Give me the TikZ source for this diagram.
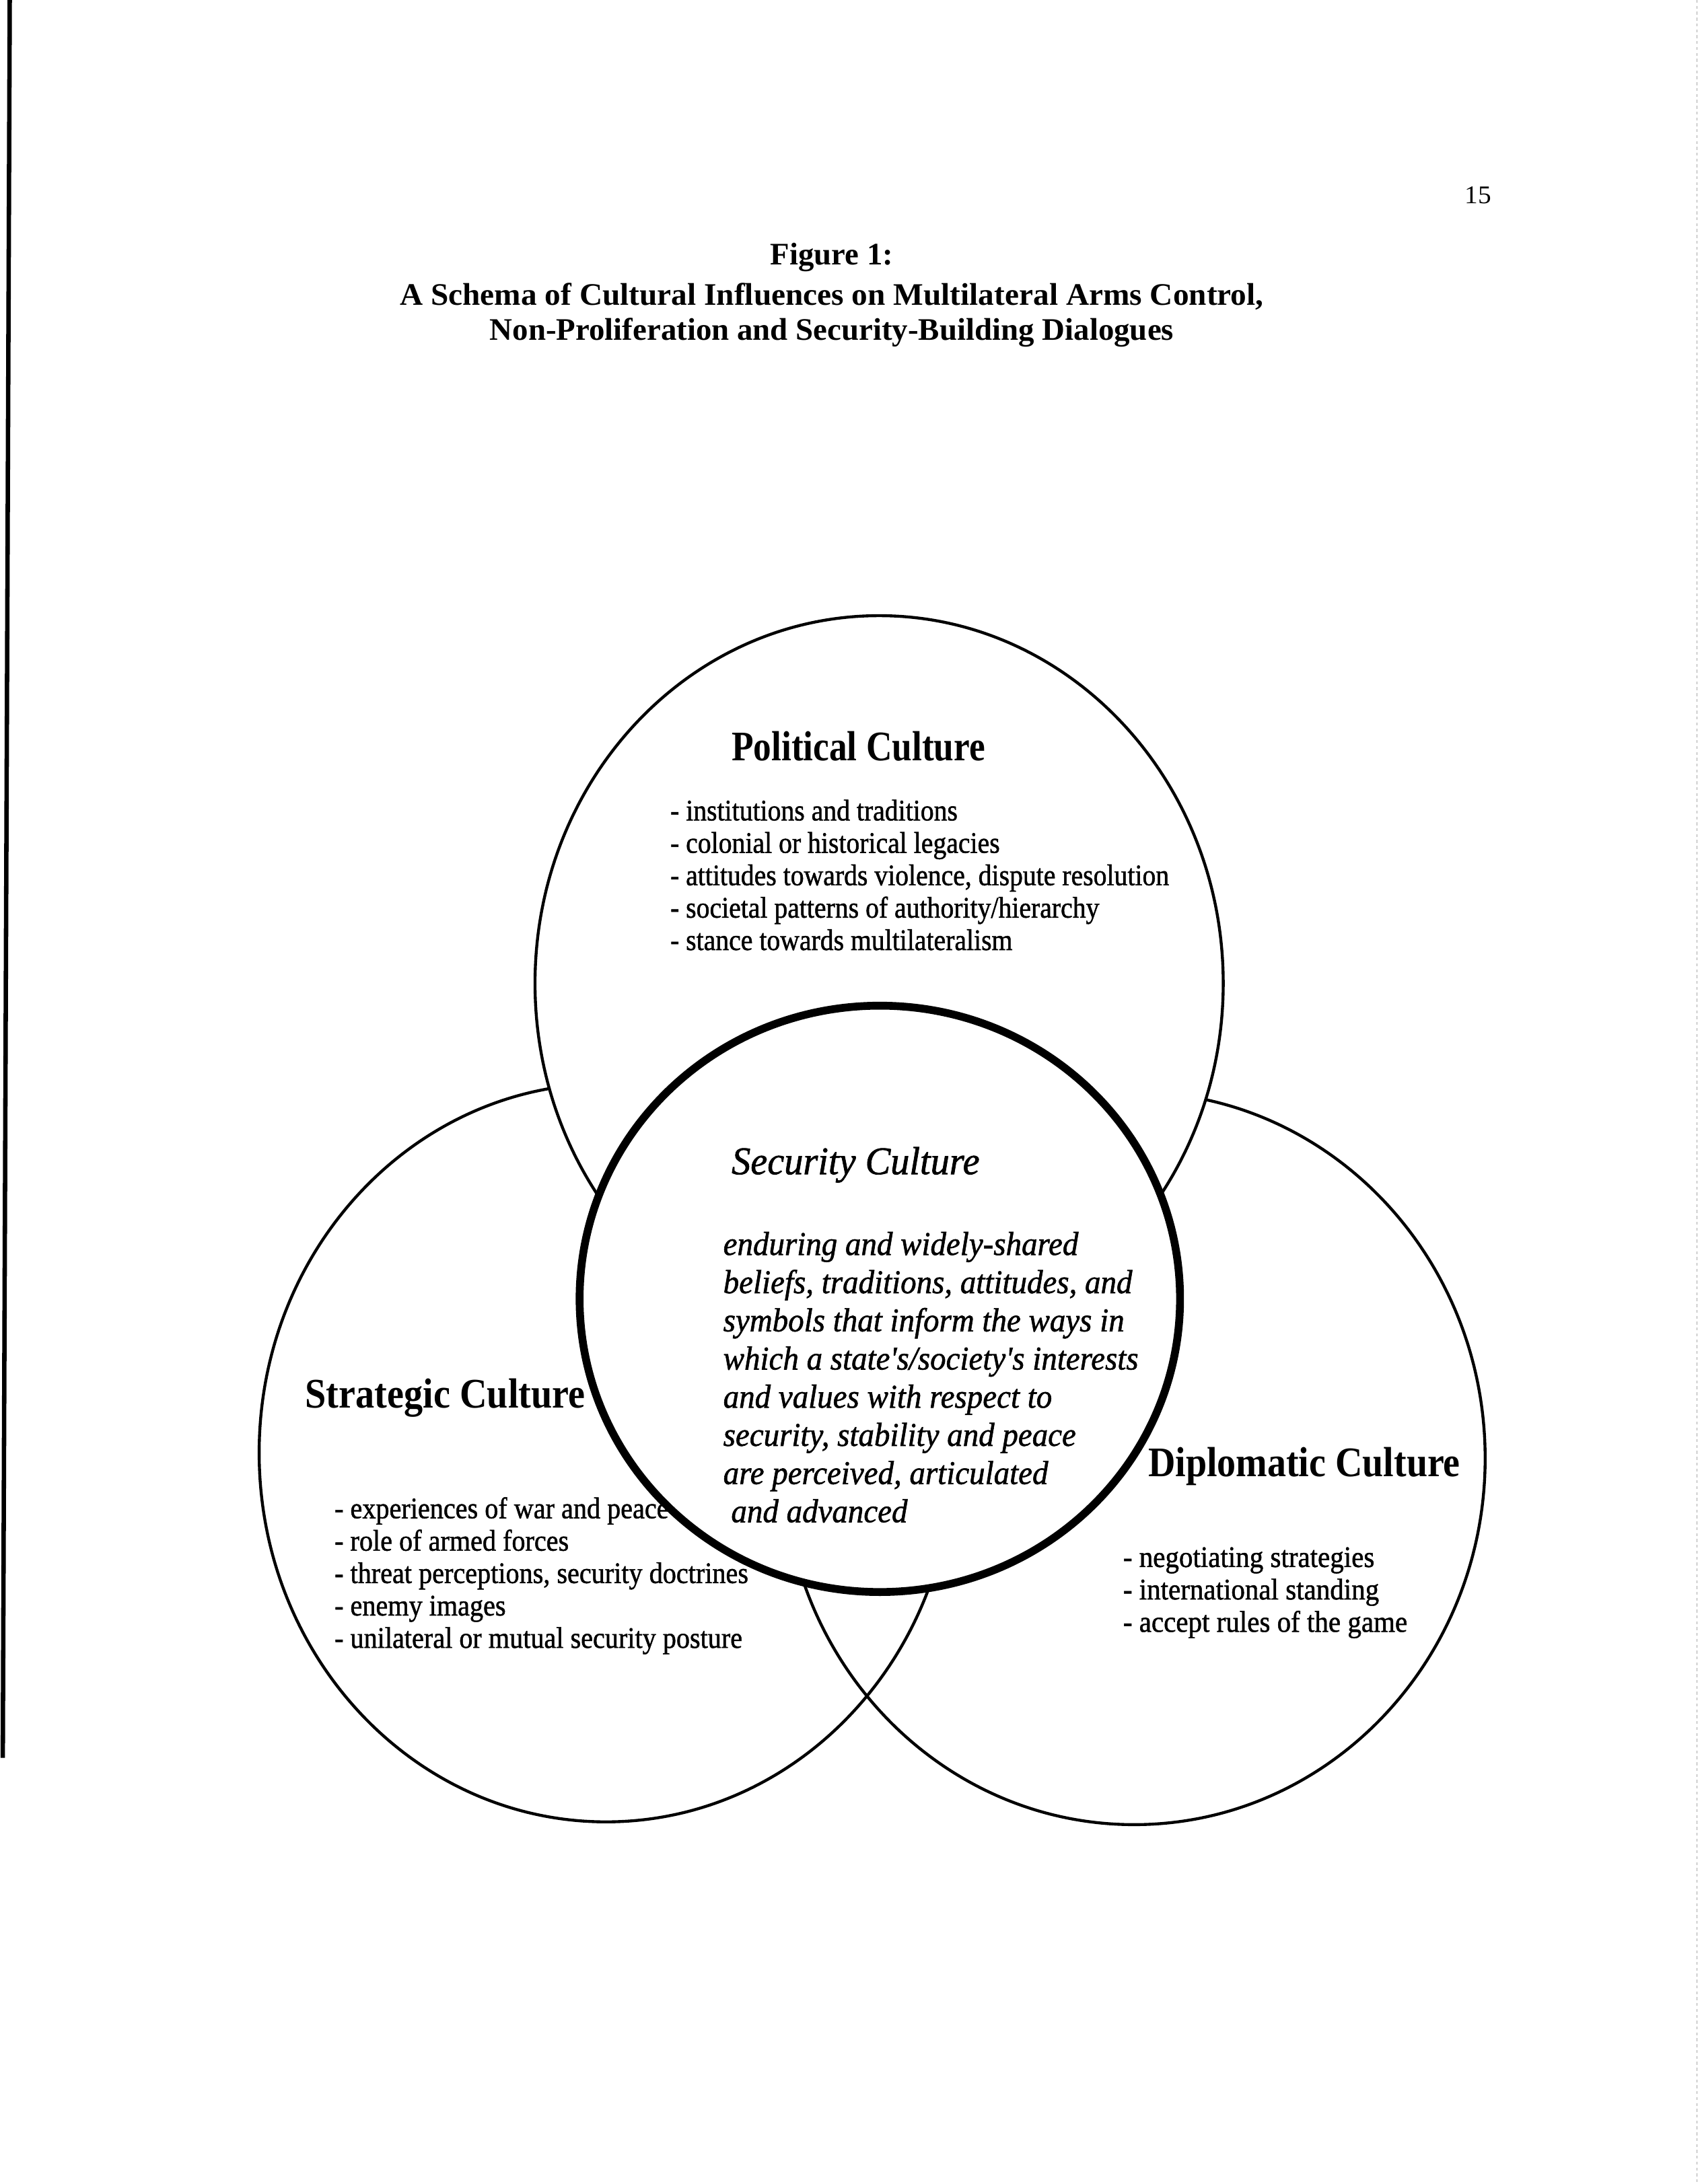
\documentclass[tikz,border=0pt]{standalone}
\usepackage{fontspec}
\setmainfont{Liberation Serif}
\newfontfamily\darkserif[FakeBold=1.2]{Liberation Serif}
\usepackage{graphicx}
\newsavebox\fitbox
\newlength\fitlen
% scale text horizontally so that it is #1 units (1 unit = 1.4226pt) wide
\newcommand\fitw[2]{\sbox\fitbox{#2}\setlength\fitlen{\wd\fitbox}\pgfmathsetmacro\fitr{#1*1.4226/\fitlen}\scalebox{\fitr}[1]{\usebox\fitbox}}
\newcommand\listfont{\darkserif\fontsize{30.5pt}{33.1pt}\selectfont}
\newcommand\headfont{\fontsize{43pt}{48pt}\selectfont\bfseries}
\newcommand\sechfont{\darkserif\fontsize{40pt}{46pt}\selectfont\itshape}
\newcommand\secfont{\darkserif\fontsize{34pt}{39pt}\selectfont\itshape}
\newcommand\titlefont{\fontsize{32pt}{36pt}\selectfont\bfseries}
\tikzset{
  txt/.style={inner sep=0pt, anchor=base west},
  ctxt/.style={inner sep=0pt, anchor=base},
  ring/.style={draw=black, line width=3pt},
  secring/.style={draw=black, line width=8pt, fill=white},
  polring/.style={draw=black, line width=3pt, fill=white}
}
\begin{document}
\begin{tikzpicture}[x=0.05cm,y=-0.05cm]
\fill[white] (0,0) rectangle (1220,1568);
\path[use as bounding box] (0,0) rectangle (1220,1568);
% scan edges
\draw[line width=4.5pt] (7,0) -- (2,1262);
\draw[gray!70, line width=1.2pt, dash pattern=on 3pt off 3pt] (1218,0) -- (1218,1568);
% page number and title
\node[ctxt] (pagenum) at (1061,146) {\fontsize{26pt}{30pt}\selectfont\fitw{19}{15}};
\node[ctxt] (fig) at (597,190) {\titlefont\fitw{88}{Figure 1:}};
\node[ctxt] (title1) at (597,219) {\titlefont\fitw{620}{A Schema of Cultural Influences on Multilateral Arms Control,}};
\node[ctxt] (title2) at (597,244) {\titlefont\fitw{491}{Non-Proliferation and Security-Building Dialogues}};
% outer circles
\draw[ring] (435,1043) ellipse [x radius=12.45cm, y radius=13.25cm];
\draw[ring] (814,1047) ellipse [x radius=12.6cm, y radius=13.15cm];
\draw[polring] (631,706) ellipse [x radius=12.35cm, y radius=13.2cm];
% political culture
\node[txt] (polhead) at (525,546) {\headfont\fitw{182}{Political Culture}};
\node[txt] (pollist) at (481,589) {\listfont\fitw{358}{\begin{tabular}[t]{@{}l@{}}- institutions and traditions\\ - colonial or historical legacies\\ - attitudes towards violence, dispute resolution\\ - societal patterns of authority/hierarchy\\ - stance towards multilateralism\end{tabular}}};
% strategic culture
\node[txt] (strhead) at (219,1011) {\headfont\fitw{201}{Strategic Culture}};
\node[txt] (strlist) at (240,1090) {\listfont\fitw{297}{\begin{tabular}[t]{@{}l@{}}- experiences of war and peace\\ - role of armed forces\\ - threat perceptions, security doctrines\\ - enemy images\\ - unilateral or mutual security posture\end{tabular}}};
% diplomatic culture
\node[txt] (diphead) at (824,1060) {\headfont\fitw{224}{Diplomatic Culture}};
\node[txt] (diplist) at (806,1125) {\listfont\fitw{204}{\begin{tabular}[t]{@{}l@{}}- negotiating strategies\\ - international standing\\ - accept rules of the game\end{tabular}}};
% security culture
\draw[secring] (631.5,932.5) ellipse [x radius=10.775cm, y radius=10.525cm];
\node[txt] (sechead) at (525,843) {\sechfont\fitw{178}{Security Culture}};
\node[txt] (secbody) at (519,901) {\secfont\fitw{298}{\begin{tabular}[t]{@{}l@{}}enduring and widely-shared\\ beliefs, traditions, attitudes, and\\ symbols that inform the ways in\\ which a state's/society's interests\\ and values with respect to\\ security, stability and peace\\ are perceived, articulated\\ \hspace*{0.25em}and advanced\end{tabular}}};
\end{tikzpicture}
\end{document}
